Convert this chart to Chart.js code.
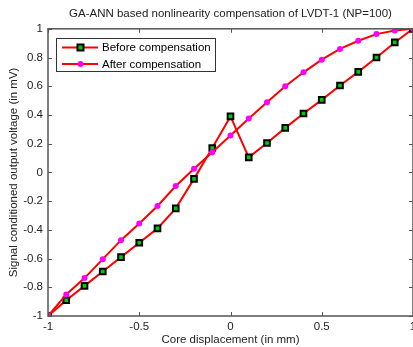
<!DOCTYPE html>
<html><head><meta charset="utf-8">
<script src="https://cdn.jsdelivr.net/npm/chart.js@4"></script>
<style>html,body{margin:0;padding:0;background:#fff}#w{width:413px;height:347px}</style>
</head><body><div id="w"><canvas id="c" width="413" height="347"></canvas></div>
<script>
const displacement = [-1,-0.9,-0.8,-0.7,-0.6,-0.5,-0.4,-0.3,-0.2,-0.1,0,0.1,0.2,0.3,0.4,0.5,0.6,0.7,0.8,0.9,1];
const beforeComp = [-1,-0.89,-0.79,-0.69,-0.59,-0.49,-0.39,-0.25,-0.045,0.17,0.39,0.105,0.205,0.31,0.41,0.505,0.605,0.70,0.80,0.905,1];
const afterComp = [-1,-0.85,-0.736,-0.604,-0.472,-0.356,-0.234,-0.095,0.026,0.141,0.257,0.375,0.488,0.6,0.697,0.785,0.86,0.917,0.963,0.988,1];
const xTicks = [-1,-0.5,0,0.5,1];
const yTicks = [-1,-0.8,-0.6,-0.4,-0.2,0,0.2,0.4,0.6,0.8,1];
const seriesNames = ['Before compensation','After compensation'];
const titleText = 'GA-ANN based nonlinearity compensation of LVDT-1 (NP=100)';
const xTitle = 'Core displacement (in mm)';
const yTitle = 'Signal conditioned output voltage (in mV)';

const FONT = 'Liberation Sans, Arial, sans-serif';
const AX = '#555';

const boxPlugin = {
  id: 'box',
  afterDatasetsDraw(chart) {
    const {ctx, chartArea: a, scales: {x, y}} = chart;
    ctx.save();
    ctx.strokeStyle = AX; ctx.lineWidth = 1.5;
    ctx.strokeRect(a.left, a.top, a.right - a.left, a.bottom - a.top);
    ctx.lineWidth = 1;
    const L = 4;
    xTicks.forEach(v => { const p = Math.round(x.getPixelForValue(v)) + 0.5;
      ctx.beginPath(); ctx.moveTo(p, a.bottom); ctx.lineTo(p, a.bottom - L);
      ctx.moveTo(p, a.top); ctx.lineTo(p, a.top + L); ctx.stroke(); });
    yTicks.forEach(v => { const p = Math.round(y.getPixelForValue(v)) + 0.5;
      ctx.beginPath(); ctx.moveTo(a.left, p); ctx.lineTo(a.left + L, p);
      ctx.moveTo(a.right, p); ctx.lineTo(a.right - L, p); ctx.stroke(); });
    // legend
    const lx = 56, ly = 38, lw = 159, lh = 33;
    ctx.fillStyle = '#fff'; ctx.fillRect(lx, ly, lw, lh);
    ctx.strokeStyle = '#333'; ctx.lineWidth = 1; ctx.strokeRect(lx + 0.5, ly + 0.5, lw, lh);
    const rows = [ly + 9.5, ly + 26];
    ctx.font = '11.5px ' + FONT; ctx.textBaseline = 'middle'; ctx.textAlign = 'left';
    rows.forEach((ry, i) => {
      ctx.strokeStyle = '#ff0000'; ctx.lineWidth = 2;
      ctx.beginPath(); ctx.moveTo(lx + 6, ry); ctx.lineTo(lx + 42, ry); ctx.stroke();
      const mx = lx + 24.5;
      if (i === 0) {
        ctx.fillStyle = '#000'; ctx.fillRect(mx - 4, ry - 4, 8, 8);
        ctx.fillStyle = '#00cc00'; ctx.fillRect(mx - 2, ry - 2, 4, 4);
      } else {
        ctx.fillStyle = '#ff00ff'; ctx.beginPath(); ctx.arc(mx, ry, 3, 0, Math.PI * 2); ctx.fill();
      }
      ctx.fillStyle = '#000'; ctx.fillText(seriesNames[i], lx + 46, ry + 0.5);
    });
    ctx.restore();
  }
};

new Chart(document.getElementById('c'), {
  type: 'line',
  data: {
    labels: displacement,
    datasets: [
      { label: seriesNames[0], data: displacement.map((v, i) => ({x: v, y: beforeComp[i]})),
        borderColor: '#ff0000', borderWidth: 2, pointStyle: 'rect', pointRadius: 4,
        pointBackgroundColor: '#00cc00', pointBorderColor: '#000', pointBorderWidth: 2, order: 2, tension: 0 },
      { label: seriesNames[1], data: displacement.map((v, i) => ({x: v, y: afterComp[i]})),
        borderColor: '#ff0000', borderWidth: 2, pointStyle: 'circle', pointRadius: 3,
        pointBackgroundColor: '#ff00ff', pointBorderColor: '#ff00ff', pointBorderWidth: 0, order: 1, tension: 0 }
    ]
  },
  options: {
    animation: false, responsive: false, maintainAspectRatio: false,
    layout: { autoPadding: false, padding: { left: 0, right: 0, top: 0, bottom: 0 } },
    plugins: {
      legend: { display: false }, tooltip: { enabled: false },
      title: { display: true, text: titleText, color: '#222', fullSize: false,
        font: { family: FONT, size: 11.5, weight: 'normal' }, padding: { top: 7, bottom: 8 } }
    },
    scales: {
      x: { type: 'linear', min: -1, max: 1,
        afterBuildTicks: s => { s.ticks = xTicks.map(v => ({value: v})); },
        afterFit: s => { s.height = 31; s.paddingLeft = 0; s.paddingRight = 0; },
        grid: { display: false, drawTicks: false }, border: { display: false },
        ticks: { color: '#222', font: { family: FONT, size: 11.5 }, padding: 4, maxRotation: 0,
          callback: v => String(v) },
        title: { display: true, text: xTitle, color: '#222', font: { family: FONT, size: 11.5 }, padding: { top: 1, bottom: 0 } } },
      y: { type: 'linear', min: -1, max: 1,
        afterBuildTicks: s => { s.ticks = yTicks.map(v => ({value: v})); },
        afterFit: s => { s.width = 48; s.paddingTop = 0; s.paddingBottom = 0; },
        grid: { display: false, drawTicks: false }, border: { display: false },
        ticks: { color: '#222', font: { family: FONT, size: 11.5 }, padding: 5,
          callback: v => String(Math.round(v * 10) / 10) },
        title: { display: true, text: yTitle, color: '#222', font: { family: FONT, size: 11.5 }, padding: { top: 7, bottom: 2 } } }
    }
  },
  plugins: [boxPlugin]
});
</script></body></html>
